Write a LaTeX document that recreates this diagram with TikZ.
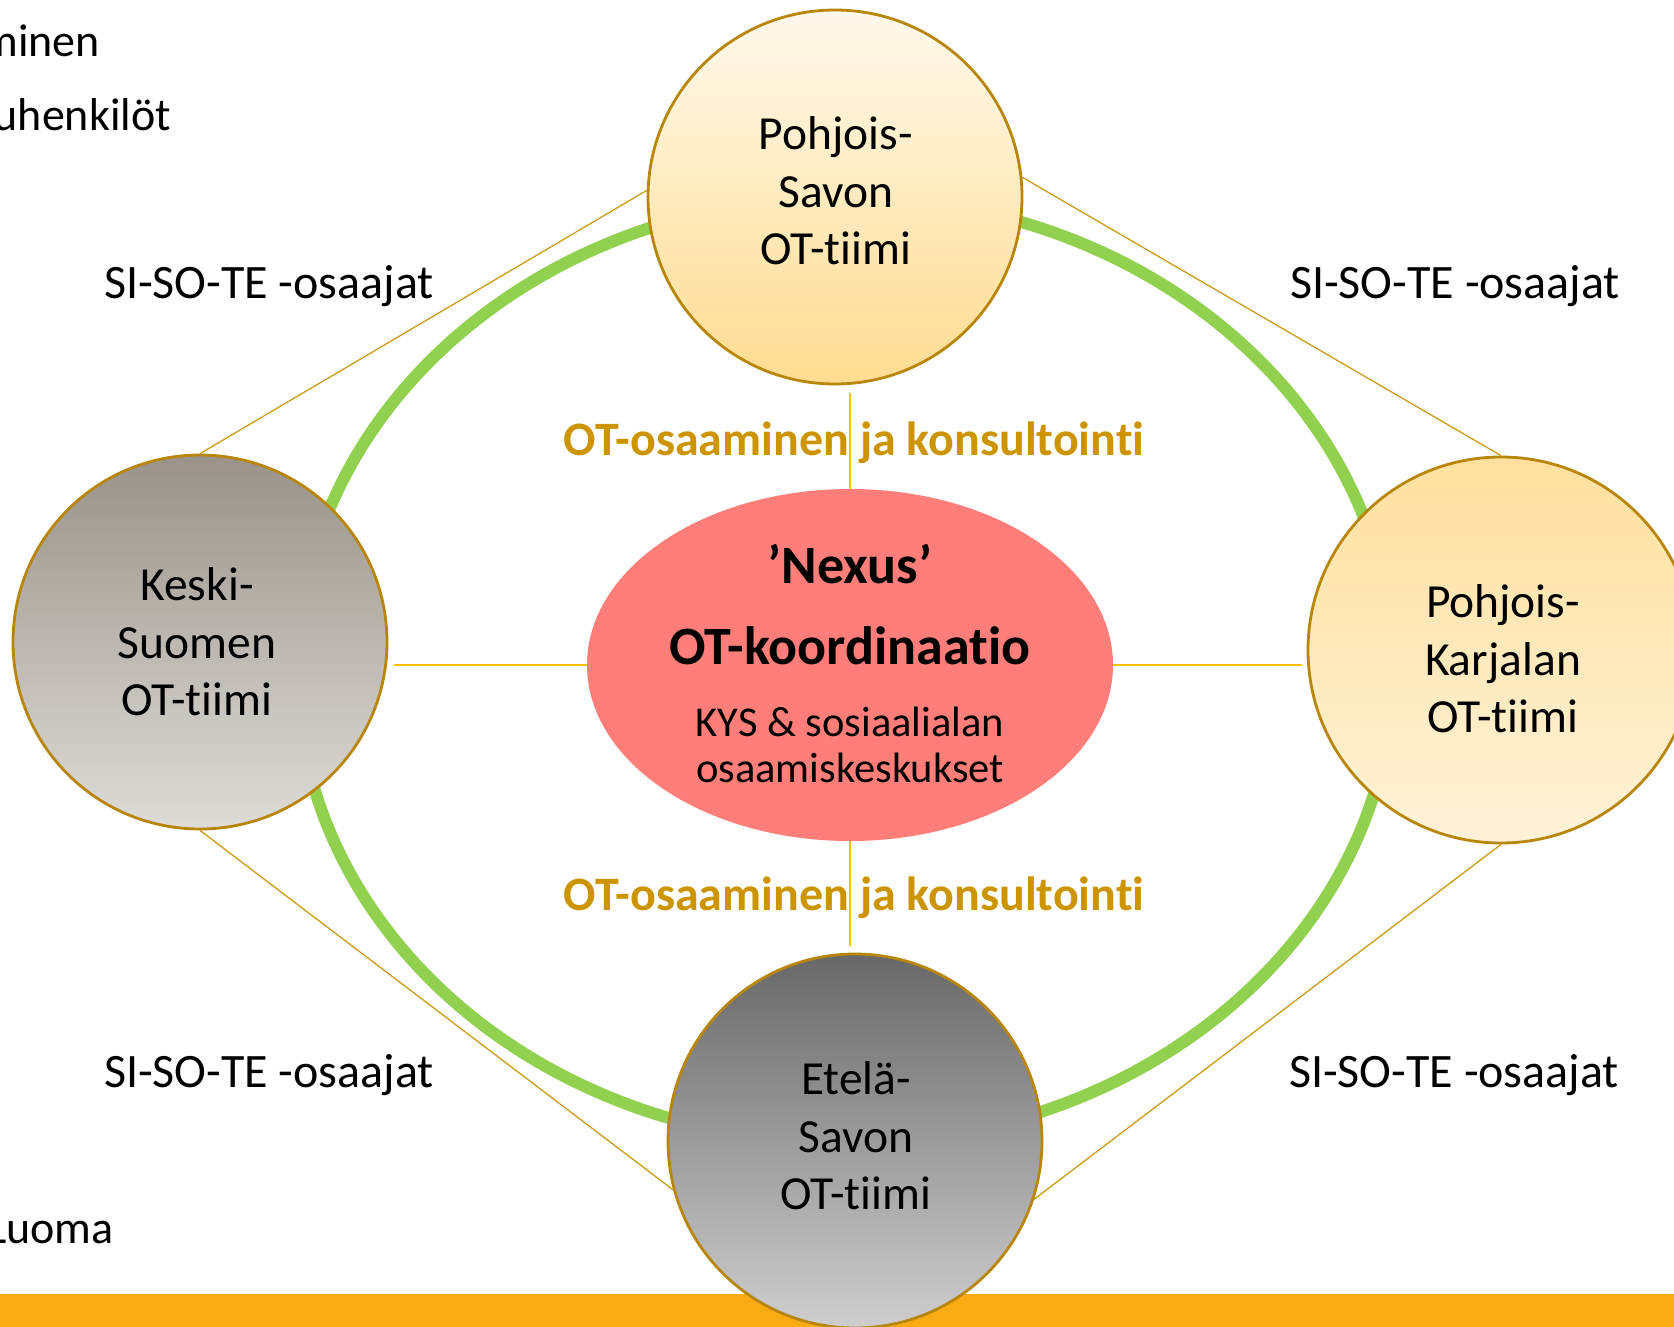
\documentclass[tikz,border=0pt]{standalone}
\usepackage{fontspec}
\setmainfont{Carlito}[RawFeature={-liga}]
\usetikzlibrary{shapes.geometric}
\definecolor{ringgreen}{HTML}{92D050}
\definecolor{bordercol}{HTML}{B8860B}
\definecolor{thincol}{HTML}{C8960A}
\definecolor{conncol}{HTML}{FFC000}
\definecolor{labcol}{HTML}{CC9500}
\definecolor{nexusfill}{HTML}{FF7E79}
\definecolor{barcol}{HTML}{F9AB13}
\pgfdeclarelayer{bg}
\pgfsetlayers{bg,main}
\begin{document}
\begin{tikzpicture}[x=1pt,y=-1pt,
  team/.style={circle, draw=bordercol, line width=2.8pt, inner sep=0pt, minimum size=374pt},
  teamtext/.style={align=center, inner sep=0pt, font=\fontsize{47.5}{57.5}\selectfont},
  sidetext/.style={anchor=base, inner sep=0pt, font=\fontsize{48}{56}\selectfont},
  edgetext/.style={anchor=base east, inner sep=0pt, font=\fontsize{46}{56}\selectfont},
  otlabel/.style={anchor=base, inner sep=0pt, text=labcol, font=\fontsize{48}{56}\selectfont\bfseries},
  thinline/.style={draw=thincol, line width=1.2pt},
  connline/.style={draw=conncol, line width=2.6pt},
  ringline/.style={draw=ringgreen, line width=12pt}]
\useasboundingbox (0,0) rectangle (1674,1327);

% circles (named shapes)
\path (835,197) node[team, top color={rgb,255:red,255;green,249;blue,236}, bottom color={rgb,255:red,255;green,220;blue,145}] (ps) {};
\path (200,642) node[team, top color={rgb,255:red,154;green,146;blue,136}, bottom color={rgb,255:red,222;green,220;blue,216}] (ks) {};
\path (1501,650) node[team, minimum size=386pt, top color={rgb,255:red,255;green,224;blue,158}, bottom color={rgb,255:red,255;green,242;blue,216}] (pk) {};
\path (855,1141) node[team, top color={rgb,255:red,104;green,104;blue,104}, bottom color={rgb,255:red,206;green,206;blue,206}] (es) {};

% central ellipse
\node[ellipse, fill=nexusfill, minimum width=526pt, minimum height=352pt, inner sep=0pt] (nx) at (850,665) {};

% texts in circles
\node[teamtext] (tps) at (836,191) {Pohjois-\\Savon\\OT-tiimi};
\node[teamtext] (tks) at (197,642) {Keski-\\Suomen\\OT-tiimi};
\node[teamtext] (tpk) at (1503,659) {Pohjois-\\Karjalan\\OT-tiimi};
\node[teamtext] (tes) at (856,1136) {Etelä-\\Savon\\OT-tiimi};

% texts in ellipse
\node[anchor=base, inner sep=0pt, font=\fontsize{54}{60}\selectfont\bfseries] (nxa) at (850,583) {’Nexus’};
\node[anchor=base, inner sep=0pt, font=\fontsize{54}{60}\selectfont\bfseries] (nxb) at (850,664) {OT-koordinaatio};
\node[align=center, inner sep=0pt, font=\fontsize{42.5}{46}\selectfont] (nxc) at (850,745) {KYS \& sosiaalialan\\osaamiskeskukset};

% labels
\node[otlabel] (la1) at (854,455) {OT-osaaminen ja konsultointi};
\node[otlabel] (la2) at (854,910) {OT-osaaminen ja konsultointi};
\node[sidetext] (s1) at (269,298) {SI-SO-TE -osaajat};
\node[sidetext] (s2) at (1455,298) {SI-SO-TE -osaajat};
\node[sidetext] (s3) at (269,1087) {SI-SO-TE -osaajat};
\node[sidetext] (s4) at (1454,1087) {SI-SO-TE -osaajat};

% cut-off texts at the left edge
\node[edgetext] (e1) at (100,57) {minen};
\node[edgetext] (e2) at (171,131) {uhenkilöt};
\node[edgetext] (e3) at (114,1243) {Luoma};

% helper coordinates
\coordinate (cT) at ([yshift=-8pt]ps.south);
\coordinate (cL) at ([xshift=6pt]ks.east);
\coordinate (cR) at ([xshift=-5pt]pk.west);
\coordinate (cB) at ([yshift=7pt]es.north);

\begin{pgfonlayer}{bg}
  \fill[white] (0,0) rectangle (1674,1327);
  \fill[barcol] (0,1294) rectangle (1674,1327);
  % thin diamond lines
  \draw[thinline] (ps.178) -- (ks.north);
  \draw[thinline] (ps.6) -- (pk.north);
  \draw[thinline] (ks.south) -- (es.195);
  \draw[thinline] (pk.south) -- (es.342);
  % green ring
  \draw[ringline] (845,670) ellipse [x radius=548, y radius=473];
  % connectors to the centre
  \draw[connline] (cT -| nx.north) -- (nx.north);
  \draw[connline] (nx.west) -- (cL |- nx.west);
  \draw[connline] (nx.east) -- (cR |- nx.east);
  \draw[connline] (nx.south) -- (cB -| nx.south);
\end{pgfonlayer}
\end{tikzpicture}
\end{document}
